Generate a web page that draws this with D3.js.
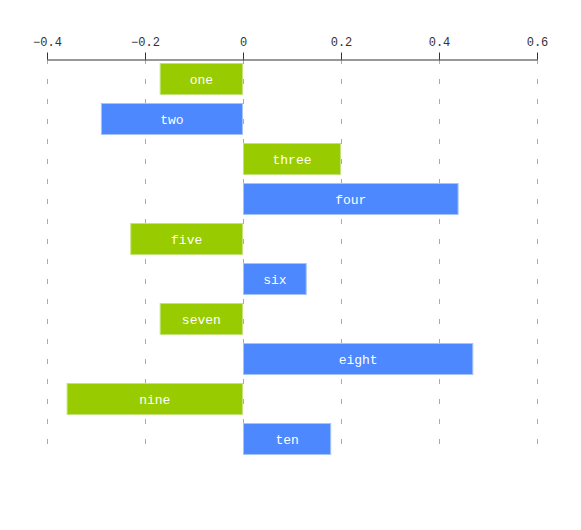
<!DOCTYPE html>
<html><head><meta charset="utf-8">
<script src="https://cdn.jsdelivr.net/npm/d3@7"></script>
<style>body{margin:0;background:#fff}</style>
</head><body>
<script>
const categories = ["one","two","three","four","five","six","seven","eight","nine","ten"];
const values = [-0.17,-0.29,0.2,0.44,-0.23,0.13,-0.17,0.47,-0.36,0.18];
const tickValues = [-0.4,-0.2,0,0.2,0.4,0.6];
const colors = ["#99cc00","#4d88ff"];
const strokes = ["#c4e27a","#a4c3ff"];

const W=581,H=530;
const svg=d3.select("body").append("svg").attr("width",W).attr("height",H);
const x=d3.scaleLinear().domain([-0.4,0.6]).range([47,537]);
const y=d3.scaleBand().domain(categories).range([59,459]).paddingInner(0.2).paddingOuter(0.1);

// grid
svg.append("g").selectAll("line").data(tickValues).join("line")
  .attr("x1",d=>x(d)+0.5).attr("x2",d=>x(d)+0.5).attr("y1",59).attr("y2",459)
  .attr("stroke","#aaa").attr("stroke-dasharray","5,15");

// bars
const g=svg.append("g");
g.selectAll("rect").data(values).join("rect")
  .attr("x",d=>Math.min(x(0),x(d))+0.5)
  .attr("y",(d,i)=>y(categories[i])+0.5)
  .attr("width",d=>Math.abs(x(d)-x(0))-1)
  .attr("height",y.bandwidth()-1)
  .attr("fill",(d,i)=>colors[i%2])
  .attr("stroke",(d,i)=>strokes[i%2]).attr("stroke-width",1);
g.selectAll("text").data(values).join("text")
  .attr("x",d=>(x(0)+x(d))/2)
  .attr("y",(d,i)=>y(categories[i])+y.bandwidth()/2)
  .attr("dy","0.35em").attr("text-anchor","middle")
  .attr("fill","#fff").attr("font-family","'Liberation Mono', monospace").attr("font-size",13)
  .text((d,i)=>categories[i]);

// axis
const ax=svg.append("g").attr("transform","translate(0,59.5)")
  .call(d3.axisTop(x).tickValues(tickValues).tickSize(7).tickSizeOuter(0).tickPadding(7)
    .tickFormat(d3.format("")));
ax.select(".domain").attr("stroke","#333");
ax.selectAll(".tick line").attr("stroke","#333");
ax.selectAll("text").attr("fill","#333").attr("font-family","'Liberation Mono', monospace").attr("font-size",12);
ax.selectAll(".tick").attr("transform",d=>`translate(${x(d)+0.5},0)`);
</script>
</body></html>
